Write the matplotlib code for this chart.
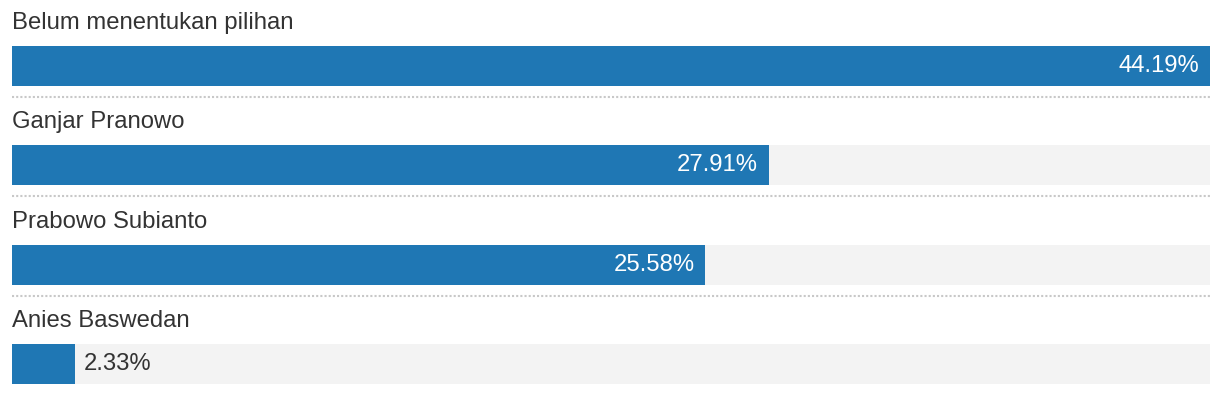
import matplotlib
matplotlib.use("Agg")
import matplotlib.pyplot as plt

categories = ["Belum menentukan pilihan", "Ganjar Pranowo", "Prabowo Subianto", "Anies Baswedan"]
values = [44.19, 27.91, 25.58, 2.33]
value_labels = ["44.19%", "27.91%", "25.58%", "2.33%"]

W, H, DPI = 1220, 394, 100
fig = plt.figure(figsize=(W / DPI, H / DPI), dpi=DPI)
fig.patch.set_facecolor("white")

left_px, width_px = 12, 1198
pitch_px = 99.3
first_center_px = 66
bar_h_px = 40

ax = fig.add_axes([left_px / W, 0, width_px / W, 1])
vmax = max(values)
ax.set_xlim(0, vmax)
top = -first_center_px / pitch_px
bottom = (H - first_center_px) / pitch_px
ax.set_ylim(bottom, top)
ax.axis("off")

bar_h = bar_h_px / pitch_px
blue = "#1f77b4"
font = "Liberation Sans"
fs = 17.2
px_to_x = vmax / width_px

for i, (cat, v, lab) in enumerate(zip(categories, values, value_labels)):
    ax.barh(i, vmax, height=bar_h, left=0, color="#f3f3f3", zorder=1)
    ax.barh(i, v, height=bar_h, left=0, color=blue, zorder=2)
    ax.text(0, i - 43 / pitch_px, cat, ha="left", va="center", fontsize=fs,
            color="#333333", family=font, zorder=3)
    if v / vmax > 0.15:
        ax.text(v - 11 * px_to_x, i, lab, ha="right", va="center", fontsize=fs,
                color="white", family=font, zorder=3)
    else:
        ax.text(v + 9 * px_to_x, i, lab, ha="left", va="center", fontsize=fs,
                color="#333333", family=font, zorder=3)
    if i < len(categories) - 1:
        ax.plot([0, vmax], [i + 31 / pitch_px] * 2, color="#c8c8c8", lw=1.5,
                linestyle=(0, (1, 1)), solid_capstyle="butt", zorder=1)

fig.savefig("out.png", dpi=DPI)
